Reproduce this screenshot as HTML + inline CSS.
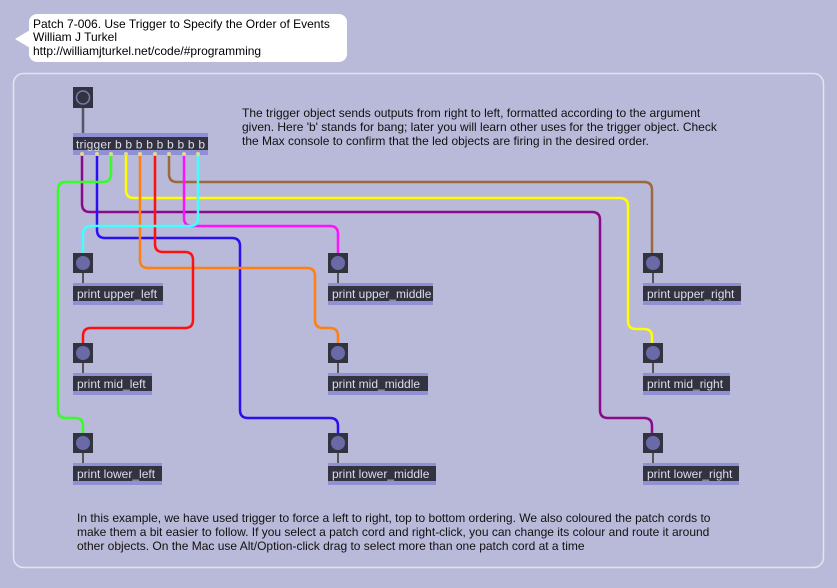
<!DOCTYPE html>
<html><head><meta charset="utf-8"><style>
body{margin:0;width:837px;height:583px;background:#b9b9d9;overflow:hidden;font-family:"Liberation Sans",Arial,sans-serif}
</style></head><body>
<svg width="837" height="583" xmlns="http://www.w3.org/2000/svg" font-family="Liberation Sans, Arial, sans-serif">
<rect width="837" height="583" fill="#b9b9d9"/>
<rect x="29" y="14" width="318" height="48" rx="8" fill="#fff"/>
<polygon points="15,39 30,30 30,48" fill="#fff"/>
<text x="33" y="28" font-size="12" fill="#000">Patch 7-006. Use Trigger to Specify the Order of Events</text>
<text x="33" y="41" font-size="12" fill="#000">William J Turkel</text>
<text x="33" y="55" font-size="12" fill="#000">http://williamjturkel.net/code/#programming</text>
<rect x="13.5" y="73.5" width="810" height="494" rx="10" fill="none" stroke="#e4e4f0" stroke-width="1.5"/>
<g font-size="12" fill="#111">
<text x="242" y="117">The trigger object sends outputs from right to left, formatted according to the argument</text>
<text x="242" y="131">given. Here 'b' stands for bang; later you will learn other uses for the trigger object. Check</text>
<text x="242" y="145">the Max console to confirm that the led objects are firing in the desired order.</text>
<text x="77" y="522">In this example, we have used trigger to force a left to right, top to bottom ordering. We also coloured the patch cords to</text>
<text x="77" y="536">make them a bit easier to follow. If you select a patch cord and right-click, you can change its colour and route it around</text>
<text x="77" y="550">other objects. On the Mac use Alt/Option-click drag to select more than one patch cord at a time</text>
</g>
<g fill="none" stroke-width="2.5">
<path d="M82 155 V204 Q82 212 90 212 H592 Q600 212 600 220 V410 Q600 418 608 418 H644 Q652 418 652 426 V433" stroke="#8a0a8a"/>
<path d="M97 155 V230 Q97 238 105 238 H232 Q240 238 240 246 V410 Q240 418 248 418 H330 Q338 418 338 426 V433" stroke="#2a10f0"/>
<path d="M111 155 V174 Q111 182 103 182 H66 Q58 182 58 190 V410 Q58 418 66 418 H75 Q83 418 83 426 V433" stroke="#33ff22"/>
<path d="M126 155 V190 Q126 198 134 198 H620 Q628 198 628 206 V321 Q628 329 636 329 H644 Q652 329 652 337 V343" stroke="#ffff00"/>
<path d="M140 155 V260 Q140 268 148 268 H307 Q315 268 315 276 V320 Q315 328 323 328 H330 Q338 328 338 336 V343" stroke="#ff8010"/>
<path d="M155 155 V244 Q155 252 163 252 H185 Q193 252 193 260 V320 Q193 328 185 328 H91 Q83 328 83 336 V343" stroke="#ff1010"/>
<path d="M169 155 V174 Q169 182 177 182 H644 Q652 182 652 190 V253" stroke="#9a6a3a"/>
<path d="M184 155 V218 Q184 226 192 226 H330 Q338 226 338 234 V253" stroke="#ff10ff"/>
<path d="M198 155 V218 Q198 226 190 226 H91 Q83 226 83 234 V253" stroke="#40ffff"/>
<path d="M83 108 V134" stroke="#555566"/>
</g>
<rect x="73" y="87" width="20" height="21" fill="#33333f"/>
<circle cx="83" cy="97.5" r="6.5" fill="none" stroke="#7a7ab8" stroke-width="1.5"/>
<rect x="73" y="133" width="135" height="22" fill="#9090d4"/>
<rect x="73" y="137" width="135" height="13" fill="#33333f"/>
<text x="76" y="148.5" font-size="12" fill="#dcdcf0" textLength="129" lengthAdjust="spacing">trigger b b b b b b b b b</text>
<g fill="#dddd88"><circle cx="82" cy="154" r="2"/><circle cx="97" cy="154" r="2"/><circle cx="111" cy="154" r="2"/><circle cx="126" cy="154" r="2"/><circle cx="140" cy="154" r="2"/><circle cx="155" cy="154" r="2"/><circle cx="169" cy="154" r="2"/><circle cx="184" cy="154" r="2"/><circle cx="198" cy="154" r="2"/></g>
<g font-size="12" fill="#dcdcf0">
<rect x="73" y="253" width="20" height="20" fill="#33333f"/><circle cx="83" cy="263" r="7" fill="#6a6aa8"/><path d="M83 273 V285" stroke="#555" stroke-width="2"/>
<rect x="73" y="283" width="90" height="22" fill="#9090d4"/><rect x="73" y="286" width="90" height="15" fill="#33333f"/><text x="77" y="298">print upper_left</text>
<rect x="328" y="253" width="20" height="20" fill="#33333f"/><circle cx="338" cy="263" r="7" fill="#6a6aa8"/><path d="M338 273 V285" stroke="#555" stroke-width="2"/>
<rect x="328" y="283" width="105" height="22" fill="#9090d4"/><rect x="328" y="286" width="105" height="15" fill="#33333f"/><text x="332" y="298">print upper_middle</text>
<rect x="643" y="253" width="20" height="20" fill="#33333f"/><circle cx="653" cy="263" r="7" fill="#6a6aa8"/><path d="M653 273 V285" stroke="#555" stroke-width="2"/>
<rect x="643" y="283" width="98" height="22" fill="#9090d4"/><rect x="643" y="286" width="98" height="15" fill="#33333f"/><text x="647" y="298">print upper_right</text>
<rect x="73" y="343" width="20" height="20" fill="#33333f"/><circle cx="83" cy="353" r="7" fill="#6a6aa8"/><path d="M83 363 V375" stroke="#555" stroke-width="2"/>
<rect x="73" y="373" width="79" height="22" fill="#9090d4"/><rect x="73" y="376" width="79" height="15" fill="#33333f"/><text x="77" y="388">print mid_left</text>
<rect x="328" y="343" width="20" height="20" fill="#33333f"/><circle cx="338" cy="353" r="7" fill="#6a6aa8"/><path d="M338 363 V375" stroke="#555" stroke-width="2"/>
<rect x="328" y="373" width="100" height="22" fill="#9090d4"/><rect x="328" y="376" width="100" height="15" fill="#33333f"/><text x="332" y="388">print mid_middle</text>
<rect x="643" y="343" width="20" height="20" fill="#33333f"/><circle cx="653" cy="353" r="7" fill="#6a6aa8"/><path d="M653 363 V375" stroke="#555" stroke-width="2"/>
<rect x="643" y="373" width="87" height="22" fill="#9090d4"/><rect x="643" y="376" width="87" height="15" fill="#33333f"/><text x="647" y="388">print mid_right</text>
<rect x="73" y="433" width="20" height="20" fill="#33333f"/><circle cx="83" cy="443" r="7" fill="#6a6aa8"/><path d="M83 453 V465" stroke="#555" stroke-width="2"/>
<rect x="73" y="463" width="89" height="22" fill="#9090d4"/><rect x="73" y="466" width="89" height="15" fill="#33333f"/><text x="77" y="478">print lower_left</text>
<rect x="328" y="433" width="20" height="20" fill="#33333f"/><circle cx="338" cy="443" r="7" fill="#6a6aa8"/><path d="M338 453 V465" stroke="#555" stroke-width="2"/>
<rect x="328" y="463" width="108" height="22" fill="#9090d4"/><rect x="328" y="466" width="108" height="15" fill="#33333f"/><text x="332" y="478">print lower_middle</text>
<rect x="643" y="433" width="20" height="20" fill="#33333f"/><circle cx="653" cy="443" r="7" fill="#6a6aa8"/><path d="M653 453 V465" stroke="#555" stroke-width="2"/>
<rect x="643" y="463" width="96" height="22" fill="#9090d4"/><rect x="643" y="466" width="96" height="15" fill="#33333f"/><text x="647" y="478">print lower_right</text>
</g>
</svg>
</body></html>
